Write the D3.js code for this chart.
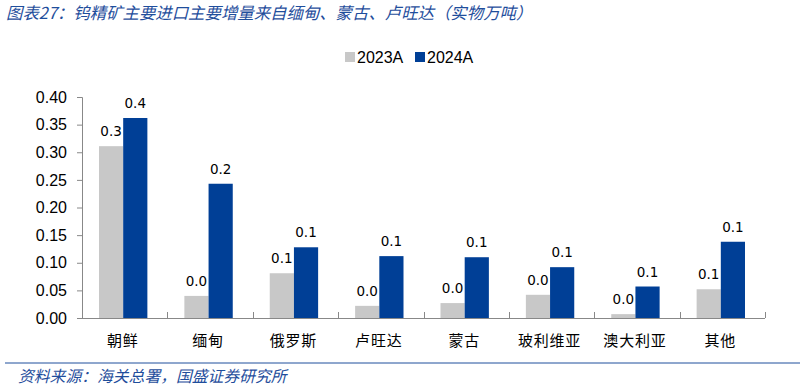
<!DOCTYPE html>
<html>
<head>
<meta charset="utf-8">
<script src="https://cdn.jsdelivr.net/npm/d3@7"></script>
<style>
  body { margin: 0; background: #fff; }
  svg { display: block; }
</style>
</head>
<body>
<svg id="chart" width="810" height="388"></svg>
<script>
var categories = ['朝鲜', '缅甸', '俄罗斯', '卢旺达', '蒙古', '玻利维亚', '澳大利亚', '其他'];
var seriesNames = ['2023A', '2024A'];
var values2023 = [0.311, 0.040, 0.081, 0.022, 0.027, 0.042, 0.007, 0.052];
var values2024 = [0.362, 0.243, 0.128, 0.112, 0.110, 0.092, 0.057, 0.138];
var yTicks = [0, 0.05, 0.10, 0.15, 0.20, 0.25, 0.30, 0.35, 0.40];

var colors = ['#c8c8c8', '#003f96'];
var blue = '#1f4e9c';

var svg = d3.select('#chart');
var margin = {left: 82, right: 45, top: 97, bottom: 70};
var width = 810 - margin.left - margin.right;
var height = 388 - margin.top - margin.bottom;

// title
svg.append('text')
	.attr('x', 6).attr('y', 19)
	.attr('fill', blue)
	.attr('font-family', 'Noto Sans CJK SC')
	.attr('font-style', 'italic')
	.attr('font-size', 16.4)
	.text('图表27：钨精矿主要进口主要增量来自缅甸、蒙古、卢旺达（实物万吨）');

// footer
svg.append('line')
	.attr('x1', 5).attr('x2', 800)
	.attr('y1', 363).attr('y2', 363)
	.attr('stroke', blue).attr('stroke-width', 1);
svg.append('text')
	.attr('x', 18).attr('y', 382)
	.attr('fill', blue)
	.attr('font-family', 'Noto Sans CJK SC')
	.attr('font-style', 'italic')
	.attr('font-size', 15.8)
	.text('资料来源：海关总署，国盛证券研究所');

var x = d3.scaleBand().domain(categories).range([0, width]);
var x1 = d3.scaleBand().domain(seriesNames).range([17, x.bandwidth() - 20]);
var y = d3.scaleLinear().domain([0, 0.4]).range([height, 0]);

var g = svg.append('g').attr('transform', 'translate(' + margin.left + ',' + margin.top + ')');

// y axis
var yAxis = g.append('g').call(d3.axisLeft(y).tickValues(yTicks).tickFormat(d3.format('.2f')).tickSize(5).tickPadding(10));
yAxis.selectAll('text').attr('font-family', 'Liberation Sans').attr('font-size', 16).attr('fill', '#000');
yAxis.selectAll('line').attr('stroke', '#888');
yAxis.select('.domain').attr('stroke', '#888').attr('d', 'M-5,0.5H0.5V' + (height + 0.5));

// x axis
var xAxisG = g.append('g').attr('transform', 'translate(0,' + height + ')');
xAxisG.append('line').attr('x1', 0).attr('x2', width).attr('y1', 0.5).attr('y2', 0.5).attr('stroke', '#888');
xAxisG.selectAll('line.tick')
	.data(d3.range(1, categories.length + 1))
	.enter().append('line')
	.attr('class', 'tick')
	.attr('x1', function(d) { return Math.round(d * x.bandwidth()) + 0.5; })
	.attr('x2', function(d) { return Math.round(d * x.bandwidth()) + 0.5; })
	.attr('y1', 0).attr('y2', -6)
	.attr('stroke', '#888');
xAxisG.selectAll('text')
	.data(categories)
	.enter().append('text')
	.attr('x', function(d) { return x(d) + x.bandwidth() / 2 - 2; })
	.attr('y', 28)
	.attr('text-anchor', 'middle')
	.attr('font-family', 'Noto Sans CJK SC')
	.attr('font-size', 15)
	.attr('letter-spacing', 0.8)
	.attr('fill', '#000')
	.text(function(d) { return d; });

// bars
var series = [values2023, values2024];
var fmt = d3.format('.1f');
series.forEach(function(vals, si) {
	var sg = g.append('g');
	sg.selectAll('rect')
		.data(vals)
		.enter().append('rect')
		.attr('x', function(d, i) { return x(categories[i]) + x1(seriesNames[si]); })
		.attr('y', function(d) { return y(d); })
		.attr('width', x1.bandwidth())
		.attr('height', function(d) { return height - y(d); })
		.attr('fill', colors[si]);
	sg.selectAll('text')
		.data(vals)
		.enter().append('text')
		.attr('x', function(d, i) { return x(categories[i]) + x1(seriesNames[si]) + x1.bandwidth() / 2; })
		.attr('y', function(d) { return y(d) - 10; })
		.attr('text-anchor', 'middle')
		.attr('font-family', 'DejaVu Sans')
		.attr('font-size', 13.5)
		.attr('fill', '#000')
		.text(function(d) { return fmt(d); });
});

// legend
var legend = svg.append('g').attr('transform', 'translate(345,52)');
seriesNames.forEach(function(name, i) {
	var lg = legend.append('g').attr('transform', 'translate(' + (i * 70) + ',0)');
	lg.append('rect').attr('width', 10).attr('height', 10).attr('fill', colors[i]);
	lg.append('text')
		.attr('x', 12).attr('y', 11)
		.attr('font-family', 'Liberation Sans')
		.attr('font-size', 16)
		.attr('fill', '#000')
		.text(name);
});
</script>
</body>
</html>
